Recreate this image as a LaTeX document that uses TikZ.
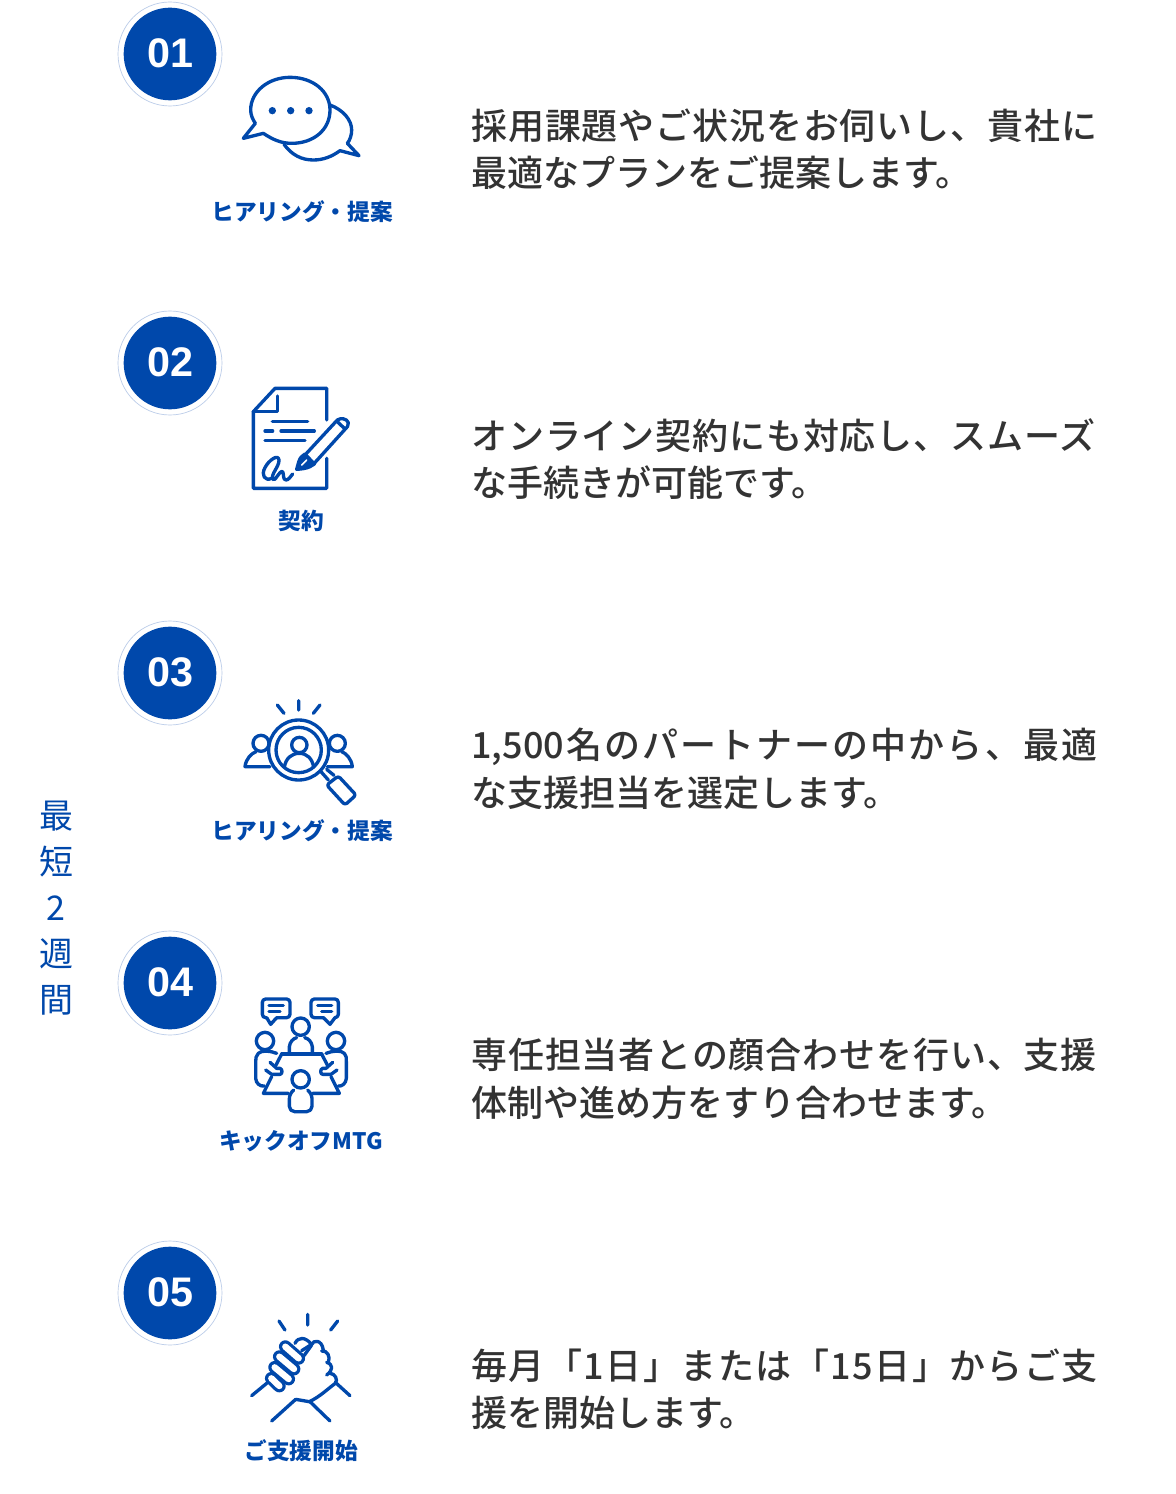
\documentclass[tikz,border=0pt]{standalone}
\usepackage{fontspec}
\newfontfamily\jp{Noto Sans CJK JP}
\newfontfamily\jpm{Noto Sans CJK JP Medium}
\newfontfamily\numf{Liberation Sans}
\newcommand{\lsp}[2]{{\addfontfeature{LetterSpace=#1}#2}}
\definecolor{brand}{HTML}{0048AB}
\definecolor{ringc}{HTML}{B9CBE8}
\definecolor{bodyc}{HTML}{333333}
\tikzset{
 ic/.style={draw=brand,line width=2.5pt,line cap=round,line join=round},
 icz/.style={x=.25pt,y=-.25pt},
 numdisc/.style={circle,fill=brand,minimum size=69.5pt,inner sep=0pt},
 numring/.style={draw=ringc,line width=.5pt,fill=white},
 numtext/.style={text=white,inner sep=0pt,font=\numf\bfseries\fontsize{31}{30}\selectfont},
 lab/.style={text=brand,font=\jp\bfseries\fontsize{17}{20}\selectfont,inner sep=0pt},
 body/.style={text=bodyc,font=\jpm\fontsize{27}{35.6}\selectfont,align=left,anchor=west,inner sep=0pt},
 side/.style={text=brand,font=\jp\fontsize{25.5}{34.6}\selectfont,align=center,inner sep=0pt},
 fingo/.style={draw=brand,line width=9.6pt,line cap=round},
 fingi/.style={draw=white,line width=4.8pt,line cap=round},
}
\begin{document}
\begin{tikzpicture}[x=.75pt,y=-.75pt]
\useasboundingbox (0,0) rectangle (1176,1494);
\fill[white] (0,0) rectangle (1176,1494);
% discs
\foreach \n/\yy in {01/54,02/363,03/673,04/983,05/1293}{
 \draw[numring] (170,\yy) circle [radius=52];
 \node[numdisc] (c\n) at (170,\yy) {};
 \node[numtext] (d\n) at (170.5,\yy-1) {\n};
}
% labels
\node[lab] (l1) at (302,212) {ヒアリング・提案};
\node[lab] (l2) at (301,521) {契約};
\node[lab] (l3) at (302,831) {ヒアリング・提案};
\node[lab] (l4) at (301,1141) {キックオフMTG};
\node[lab] (l5) at (301,1451) {ご支援開始};
% body
\node[body] (t1) at (471,149) {\lsp{2.4}{採用課題やご状況をお伺いし、貴社に}\\最適なプランをご提案します。};
\node[body] (t2) at (471,459) {\lsp{2.4}{オンライン契約にも対応し、スムーズ}\\な手続きが可能です。};
\node[body] (t3) at (471,769) {1,500\hspace{1.5pt}\lsp{5.8}{名のパートナーの中から、最適}\\な支援担当を選定します。};
\node[body] (t4) at (471,1079) {\lsp{2.4}{専任担当者との顔合わせを行い、支援}\\体制や進め方をすり合わせます。};
\node[body] (t5) at (471,1389) {\lsp{4.1}{毎月「1日」または「15日」からご支}\\援を開始します。};
% side
\node[side] (s) at (56,908) {最\\短\\2\\週\\間};
% icon 1
\begin{scope}[shift={(100,0)},icz]
\draw[ic] (490,400) .. controls (520,420) and (545,430) .. (575,430) .. controls (640,430) and (690,390) .. (690,330) .. controls (690,275) and (640,232) .. (570,232) .. controls (505,232) and (452,275) .. (452,330) .. controls (452,345) and (458,358) .. (466,370) -- (430,415) -- cycle;
\draw[ic] (690,315) .. controls (730,330) and (755,360) .. (755,390) .. controls (755,405) and (750,420) .. (742,430) -- (777,467) -- (720,452) .. controls (695,470) and (670,480) .. (640,480) .. controls (605,480) and (575,465) .. (552,433);
\fill[brand] (517,332) circle [radius=11] (572,332) circle [radius=11] (627,332) circle [radius=11];
\end{scope}
% icon 2
\begin{scope}[shift={(220,370)},icz]
\draw[ic] (320,150) -- (320,55) -- (165,55) -- (100,125) -- (100,355) -- (320,355) -- (320,265);
\draw[ic] (100,125) -- (172,125) -- (172,78);
\draw[ic] (157,155) -- (263,155) (135,183) -- (158,183) (183,183) -- (283,183) (135,212) -- (255,212);
\draw[ic] (255,255) -- (352,150) .. controls (362,143) and (380,145) .. (385,158) .. controls (387,168) and (380,172) .. (375,178) -- (280,283);
\draw[ic] (352,155) -- (374,176);
\draw[ic,fill=brand] (230,298) .. controls (235,280) and (238,265) .. (245,260) -- (255,252) -- (283,282) -- (270,290) .. controls (260,295) and (245,297) .. (230,298) -- cycle;
\draw[draw=white,line width=1.2pt,line cap=round] (245,285) -- (260,270);
\draw[ic] (155,325) .. controls (135,335) and (122,315) .. (135,293) .. controls (145,272) and (175,250) .. (177,270) .. controls (178,290) and (152,312) .. (158,328) .. controls (165,338) and (178,300) .. (188,305) .. controls (192,312) and (188,330) .. (198,330) .. controls (205,330) and (212,320) .. (218,312);
\end{scope}
% icon 3
\begin{scope}[shift={(220,690)},icz]
\draw[ic] (172,45) -- (192,70) (236,32) -- (236,60) (300,45) -- (280,70);
\draw[ic] (236,180) circle [radius=90];
\draw[ic] (236,180) circle [radius=68];
\draw[ic] (238,165) circle [radius=23];
\draw[ic] (193,232) .. controls (197,205) and (215,190) .. (238,190) .. controls (260,190) and (277,205) .. (281,232);
\draw[ic] (123,160) circle [radius=24];
\draw[ic] (352,160) circle [radius=24];
\draw[ic] (150,230) -- (75,230) .. controls (78,205) and (95,190) .. (108,185);
\draw[ic] (322,230) -- (397,230) .. controls (394,205) and (378,190) .. (365,185);
\draw[ic] (303,245) -- (325,270) (320,238) -- (342,256);
\draw[ic,rounded corners=2pt] (320,285) -- (355,258) -- (408,315) -- (375,345) -- cycle;
\end{scope}
% icon 4
\begin{scope}[shift={(230,985)},icz]
\draw[ic,rounded corners=2.5pt] (110,98) -- (97,98) -- (97,42) -- (180,42) -- (180,98) -- (140,98);
\draw[ic] (110,98) -- (122,118) -- (140,98);
\draw[ic] (117,62) -- (160,62) (117,80) -- (150,80);
\draw[ic,rounded corners=2.5pt] (280,98) -- (243,98) -- (243,42) -- (325,42) -- (325,98) -- (315,98);
\draw[ic] (280,98) -- (300,118) -- (315,98);
\draw[ic] (263,62) -- (305,62) (275,80) -- (305,80);
\draw[ic] (212,125) circle [radius=26];
\draw[ic] (178,205) -- (178,185) .. controls (180,170) and (190,160) .. (200,158) (224,158) .. controls (235,160) and (245,170) .. (247,185) -- (247,205);
\draw[ic] (105,168) circle [radius=26];
\draw[ic] (318,168) circle [radius=26];
\draw[ic] (155,207) -- (275,207);
\draw[ic] (155,207) -- (138,240) (275,207) -- (292,240);
\draw[ic] (175,325) -- (100,325) -- (125,275);
\draw[ic] (248,325) -- (328,325) -- (303,275);
\draw[ic] (140,205) .. controls (120,197) and (95,195) .. (85,205) .. controls (78,212) and (77,220) .. (77,230) -- (77,280) .. controls (78,295) and (90,305) .. (103,303);
\draw[ic] (288,205) .. controls (308,197) and (333,195) .. (343,205) .. controls (350,212) and (349,220) .. (349,230) -- (349,280) .. controls (348,295) and (336,305) .. (325,303);
\draw[ic] (120,232) -- (140,250) -- (150,250) .. controls (158,252) and (158,268) .. (150,268) -- (125,268) -- (107,255);
\draw[ic] (308,232) -- (288,250) -- (278,250) .. controls (270,252) and (270,268) .. (278,268) -- (303,268) -- (321,255);
\draw[ic] (212,283) circle [radius=26];
\draw[ic,rounded corners=4pt] (190,316) -- (178,325) -- (178,380) -- (246,380) -- (246,325) -- (234,316);
\end{scope}
% icon 5
\begin{scope}[shift={(230,1305)},icz]
\draw[ic] (147,48) -- (165,75) (233,28) -- (233,60) (323,48) -- (302,75);
\draw[ic] (195,115) .. controls (205,95) and (225,95) .. (245,118) -- (215,137);
\draw[ic] (245,118) .. controls (250,105) and (275,102) .. (280,135);
\draw[ic] (275,138) .. controls (292,135) and (302,155) .. (295,172);
\draw[ic] (290,172) .. controls (310,178) and (310,195) .. (290,210);
\draw[ic] (300,205) .. controls (315,205) and (325,225) .. (316,235) .. controls (295,250) and (270,275) .. (238,290) -- (197,283);
\draw[fingo] (124,220) -- (148,243);
\draw[fingi] (124,220) -- (148,243);
\draw[fingo] (134,187) -- (176,222);
\draw[fingi] (134,187) -- (176,222);
\draw[fingo] (148,155) -- (192,192);
\draw[fingi] (148,155) -- (192,192);
\draw[fingo] (166,125) -- (206,160);
\draw[fingi] (166,125) -- (206,160);
\draw[ic] (222,152) -- (245,120);
\draw[ic] (65,272) -- (110,235) (316,232) -- (360,272) (240,290) -- (300,348) (125,348) -- (197,283);
\end{scope}
\end{tikzpicture}
\end{document}
